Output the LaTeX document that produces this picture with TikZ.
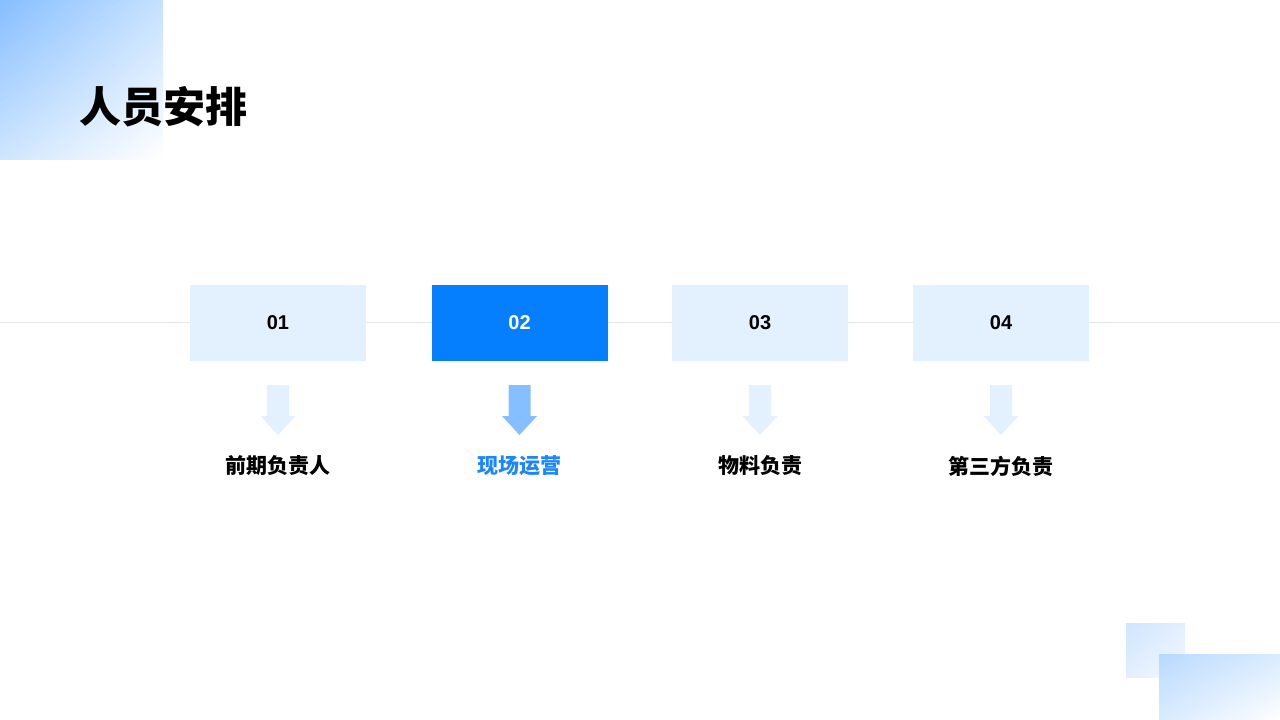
\documentclass[tikz,border=0pt]{standalone}
\usepackage{fontspec}
\usetikzlibrary{shadings}
\setmainfont{Liberation Sans}
\newfontfamily\cjk{Noto Sans CJK SC}
\definecolor{lightbox}{HTML}{E3F1FF}
\definecolor{activebox}{HTML}{067FFF}
\definecolor{activearrow}{HTML}{86BFFF}
\definecolor{activetext}{HTML}{1A86FF}
\definecolor{gridline}{HTML}{E6E6E6}
\definecolor{gradA}{HTML}{86BEFF}
\definecolor{gradB}{HTML}{C6E1FF}
\definecolor{gradC}{HTML}{B3D7FF}
\definecolor{gradD}{HTML}{CFE5FF}
\tikzset{
  stepbox/.style={minimum width=176pt, minimum height=76pt, inner sep=0pt, font=\bfseries\fontsize{20}{24}\selectfont},
  stepnum/.style={stepbox, fill=lightbox, text=black},
  stepact/.style={stepbox, fill=activebox, text=white},
  steplabel/.style={font=\cjk\bfseries\fontsize{21}{24}\selectfont, inner sep=0pt},
}
\newcommand{\downarrowshape}[2]{% x center, colour
  \fill[#2] (#1-11,385) -- (#1+11,385) -- (#1+11,416) -- (#1+17.5,416) -- (#1,435) -- (#1-17.5,416) -- (#1-11,416) -- cycle;
}
\begin{document}
\begin{tikzpicture}[x=1pt,y=-1pt]
\useasboundingbox (0,0) rectangle (1280,720);
\fill[white] (0,0) rectangle (1280,720);
% top-left gradient
\shade[upper left=gradA, upper right=gradB, lower left=gradB!85!white, lower right=white] (0,0) rectangle (163,159);
% bottom-right gradients
\shade[upper left=gradD, upper right=gradD!60!white, lower left=gradD!60!white, lower right=gradD!25!white] (1126,623) rectangle (1185,677);
\shade[upper left=gradC, upper right=gradC!55!white, lower left=gradC!55!white, lower right=white, opacity=0.9] (1159,654) rectangle (1280,720);
% title
\node[font=\cjk\bfseries\fontsize{42}{48}\selectfont, anchor=west, inner sep=0pt] (title) at (79,107) {人员安排};
% horizontal line
\coordinate (lineL) at (0,322.5);
\coordinate (lineR) at (1280,322.5);
\draw[gridline, line width=1pt] (lineL) -- (lineR);
% boxes
\node[stepnum] (b1) at (278,323) {01};
\node[stepact] (b2) at (519.5,323) {02};
\node[stepnum] (b3) at (760,323) {03};
\node[stepnum] (b4) at (1001,323) {04};
% arrows
\downarrowshape{278}{lightbox}
\downarrowshape{519.5}{activearrow}
\downarrowshape{760}{lightbox}
\downarrowshape{1001}{lightbox}
% labels
\node[steplabel, text=black] (l1) at (278,466) {前期负责人};
\node[steplabel, text=activetext] (l2) at (519.5,466) {现场运营};
\node[steplabel, text=black] (l3) at (760,466) {物料负责};
\node[steplabel, text=black] (l4) at (1001,466) {第三方负责};
\end{tikzpicture}
\end{document}
